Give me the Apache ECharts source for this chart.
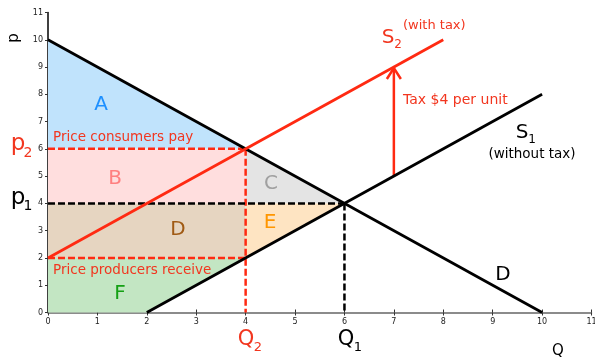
<!DOCTYPE html>
<html>
<head>
<meta charset="utf-8">
<script src="https://cdn.jsdelivr.net/npm/echarts@6/dist/echarts.min.js"></script>
<style>
  html, body { margin: 0; padding: 0; background: #fff; }
  #main { width: 595px; height: 359px; }
</style>
</head>
<body>
<div id="main"></div>
<script>
// curves
var demand = [[0, 10], [10, 0]];
var supply1 = [[2, 0], [10, 8]];
var supply2 = [[0, 2], [8, 10]];
// shaded areas
var areaA = [[0, 10], [0, 6], [4, 6]];
var areaB = [[0, 6], [4, 6], [4, 4], [0, 4]];
var areaC = [[4, 6], [6, 4], [4, 4]];
var areaD = [[0, 4], [4, 4], [4, 2], [0, 2]];
var areaE = [[4, 4], [6, 4], [4, 2]];
var areaF = [[0, 2], [4, 2], [2, 0], [0, 0]];
// dashed guides
var consumerPrice = [[0, 6], [4, 6]];
var producerPrice = [[0, 2], [4, 2]];
var taxQuantity = [[4, 6], [4, 0]];
var eqPrice = [[0, 4], [6, 4]];
var eqQuantity = [[6, 4], [6, 0]];
// tax arrow
var taxArrow = [[7, 5], [7, 9]];
var axisMin = 0, axisMax = 11;

var RED = '#ff2a12';
var RED_TXT = '#f2361f';
var FONT = 'DejaVu Sans';

var chart = echarts.init(document.getElementById('main'));

//多边形区域
var polygon = function (pts, color) {
    return {
        type: 'custom',
        silent: true,
        data: [0],
        renderItem: function (params, api) {
            return {
                type: 'polygon',
                shape: { points: pts.map(function (p) { return api.coord(p); }) },
                style: { fill: color }
            };
        }
    };
};

var line = function (pts, color, width, dashed) {
    return {
        type: 'line',
        data: pts,
        symbol: 'none',
        silent: true,
        lineStyle: { color: color, width: width, type: dashed ? [7, 3] : 'solid' }
    };
};

var txt = function (x, y, s, size, color, align) {
    return {
        type: 'text', x: x, y: y, z: 100,
        style: {
            text: s, fontSize: size, fontFamily: FONT, fill: color,
            align: align || 'center', verticalAlign: 'middle'
        }
    };
};

var arrowSeries = {
    type: 'custom',
    silent: true,
    data: [0],
    renderItem: function (params, api) {
        var a = api.coord(taxArrow[0]), b = api.coord(taxArrow[1]);
        return {
            type: 'group',
            children: [
                { type: 'line', shape: { x1: a[0], y1: a[1], x2: b[0], y2: b[1] },
                  style: { stroke: RED, lineWidth: 2.5 } },
                { type: 'polyline', shape: { points: [[b[0] - 7, b[1] + 12], [b[0], b[1] + 1], [b[0] + 7, b[1] + 12]] },
                  style: { stroke: RED, lineWidth: 2.5, fill: null } }
            ]
        };
    }
};

var option = {
    animation: false,
    grid: { left: 48, right: 3.5, top: 12.5, bottom: 46.5, outerBoundsMode: 'none', containLabel: false },
    xAxis: [{
        type: 'value', min: axisMin, max: axisMax, interval: 1,
        axisLine: { lineStyle: { color: '#666', width: 1.5 } },
        axisTick: { length: 3, lineStyle: { color: '#333' } },
        axisLabel: { fontSize: 8, color: '#222', margin: 5, fontFamily: FONT },
        splitLine: { show: false }
    }, {
        type: 'value', min: axisMin, max: axisMax, interval: 1, position: 'bottom',
        axisLine: { show: false },
        axisTick: { inside: true, length: 3, lineStyle: { color: '#333' } },
        axisLabel: { show: false },
        splitLine: { show: false }
    }],
    yAxis: {
        type: 'value', min: axisMin, max: axisMax, interval: 1,
        axisLine: { lineStyle: { color: '#000', width: 1.5 } },
        axisTick: { length: 3, lineStyle: { color: '#333' } },
        axisLabel: { fontSize: 8, color: '#222', margin: 5, fontFamily: FONT },
        splitLine: { show: false }
    },
    series: [
        polygon(areaA, '#c0e3fc'),
        polygon(areaB, '#ffdede'),
        polygon(areaC, '#e4e4e4'),
        polygon(areaD, '#e6d5c1'),
        polygon(areaE, '#fee4c2'),
        polygon(areaF, '#c3e6c3'),
        line(consumerPrice, RED, 2.5, true),
        line(producerPrice, RED, 2.5, true),
        line(taxQuantity, RED, 2.5, true),
        line(eqPrice, '#000', 2.5, true),
        line(eqQuantity, '#000', 2.5, true),
        line(demand, '#000', 2.8),
        line(supply1, '#000', 2.8),
        line(supply2, RED, 2.8),
        arrowSeries
    ],
    graphic: [
        { type: 'text', x: 14, y: 38, rotation: Math.PI / 2, z: 100,
          style: { text: 'p', fontSize: 15, fontFamily: FONT, fill: '#000', align: 'center', verticalAlign: 'middle' } },
        txt(18, 144, 'p', 23, RED_TXT),
        txt(28, 153, '2', 14, RED_TXT),
        txt(18, 198, 'p', 23, '#000'),
        txt(28, 206, '1', 14, '#000'),
        txt(246, 340, 'Q', 21, RED_TXT),
        txt(258, 348, '2', 13, RED_TXT),
        txt(346, 340, 'Q', 21, '#000'),
        txt(358, 348, '1', 13, '#000'),
        txt(558, 351, 'Q', 15, '#000'),
        txt(388, 38, 'S', 20, RED_TXT),
        txt(398, 45, '2', 12, RED_TXT),
        txt(403, 26, '(with tax)', 13, RED_TXT, 'left'),
        txt(403, 100, 'Tax $4 per unit', 14, RED_TXT, 'left'),
        txt(522, 133, 'S', 20, '#000'),
        txt(532, 140, '1', 12, '#000'),
        txt(532, 154, '(without tax)', 13.5, '#000'),
        txt(503, 275, 'D', 20, '#000'),
        txt(53, 137, 'Price consumers pay', 13.5, RED_TXT, 'left'),
        txt(53, 270, 'Price producers receive', 13.5, RED_TXT, 'left'),
        txt(101, 105, 'A', 20, '#1e90ff'),
        txt(115, 179, 'B', 20, '#ff8080'),
        txt(271, 184, 'C', 20, '#a0a0a0'),
        txt(178, 230, 'D', 20, '#a05a14'),
        txt(270, 223, 'E', 20, '#ff9600'),
        txt(120, 294, 'F', 20, '#14a014')
    ]
};
chart.setOption(option);
</script>
</body>
</html>
